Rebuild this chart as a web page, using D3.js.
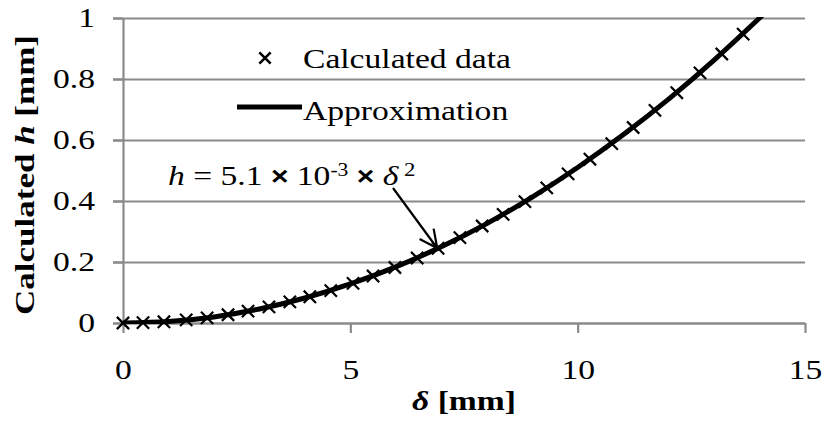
<!DOCTYPE html>
<html>
<head>
<meta charset="utf-8">
<script src="https://cdn.jsdelivr.net/npm/d3@7"></script>
<style>
  body { margin: 0; background: #fff; }
</style>
</head>
<body>
<div class="canvas"></div>
<script>
// calculated data
const deltaData = [0, 0.44, 0.90, 1.39, 1.85, 2.31, 2.75, 3.21, 3.67, 4.11, 4.57, 5.06, 5.50, 5.98, 6.47,
    6.93, 7.41, 7.90, 8.36, 8.84, 9.32, 9.79, 10.27, 10.75, 11.22, 11.70, 12.18, 12.69, 13.17, 13.64];
const hData = [0, 0.001, 0.004, 0.010, 0.017, 0.027, 0.039, 0.053, 0.069, 0.086, 0.106, 0.130, 0.154, 0.182, 0.213,
    0.245, 0.280, 0.318, 0.356, 0.398, 0.443, 0.489, 0.537, 0.588, 0.641, 0.697, 0.755, 0.820, 0.882, 0.947];

// approximation curve points
const deltaFit = [0, 1, 2, 3, 4, 5, 6, 7, 8, 9, 10, 11, 12, 13, 14, 14.5];
const hFit = [0, 0.005, 0.020, 0.046, 0.082, 0.128, 0.184, 0.250, 0.326, 0.413, 0.510, 0.617, 0.734, 0.862, 1.000, 1.072];

const xTicks = [0, 5, 10, 15];
const yTicks = [0, 0.2, 0.4, 0.6, 0.8, 1];

const serif = '"Liberation Serif"';
const fontSize = '28px';
const sx = 1.2; // the original figure's text is stretched along the baseline

const svg = d3.select('.canvas')
    .append('svg')
        .attr('width', 822)
        .attr('height', 424);

//margins and dimensions
const margin = {top: 18, bottom: 101, left: 123, right: 17};
const graphWidth = 822 - margin.left - margin.right;
const graphHeight = 424 - margin.top - margin.bottom;

const graph = svg.append('g')
    .attr('transform', `translate(${margin.left}, ${margin.top})`);

const x = d3.scaleLinear().domain([0, 15]).range([0, graphWidth]);
const y = d3.scaleLinear().domain([0, 1]).range([graphHeight, 0]);

const grey = '#8a8a8a';

// widen a text horizontally, keeping its anchor point
const stretch = sel => sel.each(function() {
    const t = d3.select(this);
    t.attr('x', (+t.attr('x') || 0) / sx).attr('transform', `scale(${sx},1)`);
});

// gridlines
graph.append('g')
    .attr('transform', 'translate(-10,0)')
    .call(d3.axisLeft(y).tickValues(yTicks).tickSize(-(graphWidth + 10)).tickFormat(''))
    .call(g => g.select('.domain').remove())
    .selectAll('line').attr('stroke', grey).attr('stroke-width', 2.2);

// axes
const xAxisGroup = graph.append('g')
    .attr('transform', `translate(0, ${graphHeight})`)
    .call(d3.axisBottom(x).tickValues(xTicks).tickSize(10).tickSizeOuter(0).tickPadding(26));
const yAxisGroup = graph.append('g')
    .call(d3.axisLeft(y).tickValues(yTicks).tickSize(10).tickSizeOuter(0).tickPadding(18)
        .tickFormat(d => d === 0 || d === 1 ? d : d.toFixed(1)));

[xAxisGroup, yAxisGroup].forEach(g => {
    g.attr('font-family', null);
    g.selectAll('line, path').attr('stroke', grey).attr('stroke-width', 2.2);
    g.selectAll('text')
        .style('font-family', serif)
        .style('font-size', fontSize)
        .attr('fill', '#000')
        .call(stretch);
});

// clip to plot area
svg.append('defs').append('clipPath').attr('id', 'clip')
    .append('rect').attr('width', graphWidth).attr('height', graphHeight + 2).attr('y', -1);

const plot = graph.append('g').attr('clip-path', 'url(#clip)');

// approximation line
const fitPts = deltaFit.map((d, i) => [d, hFit[i]]);
const line = d3.line()
    .x(d => x(d[0]))
    .y(d => y(d[1]))
    .curve(d3.curveNatural);

plot.append('path')
    .datum(fitPts)
    .attr('fill', 'none')
    .attr('stroke', '#000')
    .attr('stroke-width', 5)
    .attr('d', line);

// data crosses
const cross = d3.symbol(d3.symbolTimes, 100);
const dataPts = deltaData.map((d, i) => ({delta: d, h: hData[i]}));

graph.selectAll('path.mark')
    .data(dataPts)
    .enter()
    .append('path')
        .attr('class', 'mark')
        .attr('d', cross)
        .attr('transform', d => `translate(${x(d.delta)}, ${y(d.h)})`)
        .attr('stroke', '#000')
        .attr('stroke-width', 2.2)
        .attr('fill', 'none');

// legend
svg.append('path')
    .attr('d', d3.symbol(d3.symbolTimes, 85))
    .attr('transform', 'translate(265, 58)')
    .attr('stroke', '#000')
    .attr('stroke-width', 2.6)
    .attr('fill', 'none');
svg.append('text')
    .attr('x', 303).attr('y', 68)
    .style('font-family', serif)
    .style('font-size', fontSize)
    .text('Calculated data')
    .call(stretch);
svg.append('line')
    .attr('x1', 237).attr('x2', 302)
    .attr('y1', 107).attr('y2', 107)
    .attr('stroke', '#000')
    .attr('stroke-width', 5);
svg.append('text')
    .attr('x', 303).attr('y', 120)
    .style('font-family', serif)
    .style('font-size', fontSize)
    .text('Approximation')
    .call(stretch);

// equation annotation
const eq = svg.append('text')
    .attr('x', 168).attr('y', 185)
    .style('font-family', serif)
    .style('font-size', fontSize);
eq.append('tspan').style('font-style', 'italic').text('h');
eq.append('tspan').text(' = 5.1 ');
eq.append('tspan').style('font-family', '"Liberation Sans"').style('font-weight', 'bold').style('font-size', '25px').text('×');
eq.append('tspan').text(' 10');
eq.append('tspan').attr('dy', -9).style('font-size', '18px').text('-3');
eq.append('tspan').attr('dy', 9).text(' ');
eq.append('tspan').style('font-family', '"Liberation Sans"').style('font-weight', 'bold').style('font-size', '25px').text('×');
eq.append('tspan').text(' ');
eq.append('tspan').style('font-style', 'italic').text('δ');
eq.append('tspan').attr('dy', -9).style('font-size', '19px').text(' 2');
eq.call(stretch);

// arrow from equation to the curve at delta = 7
const tip = [x(7) + margin.left - 4, y(0.245) + margin.top];
const tail = [393, 188];
const ang = Math.atan2(tip[1] - tail[1], tip[0] - tail[0]);
const headLen = 20, spread = 0.45;
svg.append('path')
    .attr('d', `M${tail[0]},${tail[1]}L${tip[0]},${tip[1]}`
        + `M${tip[0] - headLen * Math.cos(ang - spread)},${tip[1] - headLen * Math.sin(ang - spread)}`
        + `L${tip[0]},${tip[1]}`
        + `L${tip[0] - headLen * Math.cos(ang + spread)},${tip[1] - headLen * Math.sin(ang + spread)}`)
    .attr('fill', 'none')
    .attr('stroke', '#000')
    .attr('stroke-width', 2.2);

// axis titles
const xTitle = svg.append('text')
    .attr('x', margin.left + graphWidth / 2)
    .attr('y', 410)
    .attr('text-anchor', 'middle')
    .style('font-family', serif)
    .style('font-size', fontSize)
    .style('font-weight', 'bold');
xTitle.append('tspan').style('font-style', 'italic').text('δ');
xTitle.append('tspan').text(' [mm]');
xTitle.call(stretch);

const yTitle = svg.append('text')
    .attr('transform', `translate(34, 175) rotate(-90) scale(1.25,1)`)
    .attr('text-anchor', 'middle')
    .style('font-family', serif)
    .style('font-size', fontSize)
    .style('font-weight', 'bold');
yTitle.append('tspan').text('Calculated ');
yTitle.append('tspan').style('font-style', 'italic').text('h');
yTitle.append('tspan').text(' [mm]');
</script>
</body>
</html>
